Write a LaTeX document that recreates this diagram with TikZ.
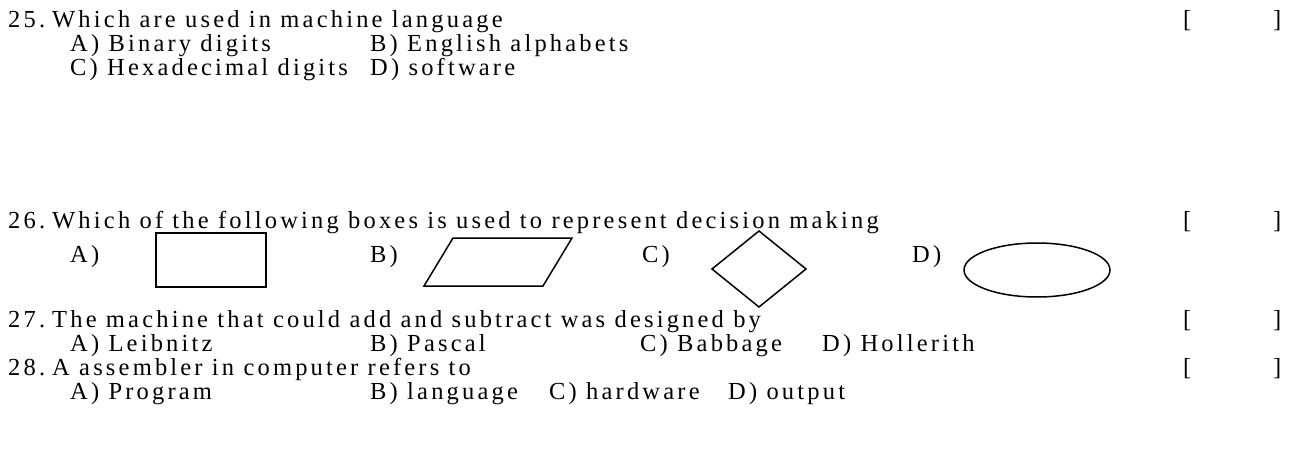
\documentclass[tikz,border=0pt]{standalone}
\usepackage{fontspec}
\setmainfont{Liberation Serif}[LetterSpace=13]
\begin{document}
\begin{tikzpicture}[x=1pt,y=-1pt,
    txt/.style={anchor=base west,inner sep=0pt,font=\fontsize{24.5}{28}\selectfont},
    figline/.style={line width=1.5pt,line join=miter}]

    \useasboundingbox (0,0) rectangle (1292,457);

    % Columns of the options and of the answer brackets
    \def\colNum{8}
    \def\colQ{52}
    \def\colA{70}
    \def\colB{370}
    \def\colL{1183}
    \def\colR{1273}

    % Question 25
    \node[txt] (q25num) at (\colNum,28) {25.};
    \node[txt] (q25) at (\colQ,28) {Which are used in machine language};
    \node[txt] (q25l) at (\colL,28) {[};
    \node[txt] (q25r) at (\colR,28) {]};
    \node[txt] (q25a) at (\colA,52) {A) Binary digits};
    \node[txt] (q25b) at (\colB,52) {B) English alphabets};
    \node[txt] (q25c) at (\colA,76) {C) Hexadecimal digits};
    \node[txt] (q25d) at (\colB,76) {D) software};

    % Question 26
    \node[txt] (q26num) at (\colNum,228) {26.};
    \node[txt] (q26) at (\colQ,228) {Which of the following boxes is used to represent decision making};
    \node[txt] (q26l) at (\colL,228) {[};
    \node[txt] (q26r) at (\colR,228) {]};
    \node[txt] (q26a) at (\colA,262) {A)};
    \node[txt] (q26b) at (\colB,262) {B)};
    \node[txt] (q26c) at (642,262) {C)};
    \node[txt] (q26d) at (912,262) {D)};

    % Draw the four boxes
    \draw[figline] (156,233) rectangle (266,287);
    \draw[figline] (424,286) -- (453,238) -- (572,238) -- (543,286) -- cycle;
    \draw[figline] (759,231) -- (806,269) -- (759,307) -- (712,269) -- cycle;
    \draw[figline] (1037,270) ellipse [x radius=73, y radius=27];

    % Question 27
    \node[txt] (q27num) at (\colNum,327) {27.};
    \node[txt] (q27) at (\colQ,327) {The machine that could add and subtract was designed by};
    \node[txt] (q27l) at (\colL,327) {[};
    \node[txt] (q27r) at (\colR,327) {]};
    \node[txt] (q27a) at (\colA,351) {A) Leibnitz};
    \node[txt] (q27b) at (\colB,351) {B) Pascal};
    \node[txt] (q27c) at (640,351) {C) Babbage};
    \node[txt] (q27d) at (822,351) {D) Hollerith};

    % Question 28
    \node[txt] (q28num) at (\colNum,375) {28.};
    \node[txt] (q28) at (\colQ,375) {A assembler in computer refers to};
    \node[txt] (q28l) at (\colL,375) {[};
    \node[txt] (q28r) at (\colR,375) {]};
    \node[txt] (q28a) at (\colA,399) {A) Program};
    \node[txt] (q28b) at (\colB,399) {B) language};
    \node[txt] (q28c) at (549,399) {C) hardware};
    \node[txt] (q28d) at (728,399) {D) output};

\end{tikzpicture}
\end{document}
